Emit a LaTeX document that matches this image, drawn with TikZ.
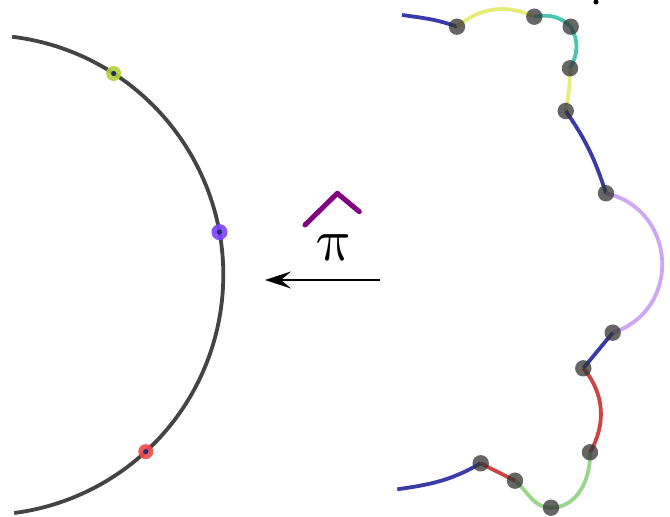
\documentclass[tikz,border=0pt]{standalone}
\usetikzlibrary{arrows.meta}
\definecolor{circ}{HTML}{444444}
\definecolor{cblue}{HTML}{3B3BA8}
\definecolor{cyel}{HTML}{E6EE7A}
\definecolor{cteal}{HTML}{4CC4B4}
\definecolor{clav}{HTML}{CFA6F5}
\definecolor{cred}{HTML}{CC4444}
\definecolor{cgreen}{HTML}{98D68A}
\definecolor{hgreen}{HTML}{B5CF3A}
\definecolor{hpurple}{HTML}{7B3FFF}
\definecolor{hred}{HTML}{F04848}
\definecolor{navy}{HTML}{1F2F6A}
\definecolor{hatc}{HTML}{800080}
\begin{document}
\begin{tikzpicture}[x=1pt,y=1pt,
  seg/.style={line width=3.8pt},
  jdot/.style={fill=black!80,opacity=0.75},
  halo/.style={opacity=0.9},
  core/.style={fill=navy}]
\useasboundingbox[fill=white] (0,0) rectangle (670,517);
% left circle
\coordinate (C) at (-16.7,242);
\draw[line width=3.8pt,circ] ([shift={(83.1:240)}]C) arc[start angle=83.1,end angle=-82.6,radius=240];
\coordinate (g) at ([shift={(57.1:240)}]C);
\coordinate (p) at ([shift={(10.3:240)}]C);
\coordinate (r) at ([shift={(-47.4:240)}]C);
\fill[halo,hgreen] (g) circle[radius=7.5];
\fill[halo,hpurple] (p) circle[radius=8];
\fill[halo,hred] (r) circle[radius=7.5];
\foreach \q in {g,p,r} \fill[core] (\q) circle[radius=2.6];
% right curve
\coordinate (s0) at (402,502);
\coordinate (d1) at (457,490.3);
\coordinate (d2) at (534.3,500.3);
\coordinate (d3) at (570.7,490.3);
\coordinate (d4) at (570,448.7);
\coordinate (d5) at (565.7,406);
\coordinate (d6) at (606,323.7);
\coordinate (d7) at (612.7,184.3);
\coordinate (d8) at (583.3,148.7);
\coordinate (d9) at (590,64.7);
\coordinate (d10) at (551,9.3);
\coordinate (d11) at (515,36.3);
\coordinate (d12) at (480.7,53.7);
\coordinate (e) at (397.3,27.7);
\draw[seg,cblue] (s0) to[out=-8,in=160] (d1);
\draw[seg,cyel] (d1) to[out=40,in=155] (d2);
\draw[seg,cteal] (d2) to[out=10,in=135] (d3);
\draw[seg,cteal] (d3) to[out=-60,in=60] (d4);
\draw[seg,cyel] (d4) to[out=-90,in=80] (d5);
\draw[seg,cblue] (d5) to[out=-55,in=108] (d6);
\draw[seg,clav] (d6) to[out=-13,in=18,looseness=1.34] (d7);
\draw[seg,cblue] (d7) -- (d8);
\draw[seg,cred] (d8) to[out=-50,in=60] (d9);
\draw[seg,cgreen] (d9) to[out=-88,in=0] (d10);
\draw[seg,cgreen] (d10) to[out=180,in=-40] (d11);
\draw[seg,cred] (d11) -- (d12);
\draw[seg,cblue] (d12) to[out=210,in=8] (e);
\foreach \q in {d1,d2,d3,d4,d5,d6,d7,d8,d9,d10,d11,d12} \fill[jdot] (\q) circle[radius=8.2];
% top mark
\fill (596,515) circle[radius=2.5];
% label
\node[inner sep=0pt,scale=6,xslant=-0.2] (pi) at (335,269) {$\pi$};
\coordinate (h1) at (305,292);
\coordinate (h2) at (337.3,323.7);
\coordinate (h3) at (359.3,305.3);
\draw[hatc,line width=5pt,line cap=round,line join=round] (h1) -- (h2) -- (h3);
% arrow
\coordinate (a1) at (380,237);
\coordinate (a2) at (265,237);
\draw[line width=1.5pt,-{Stealth[length=26pt,width=17pt,inset=10pt]}] (a1) -- (a2);
\end{tikzpicture}
\end{document}
